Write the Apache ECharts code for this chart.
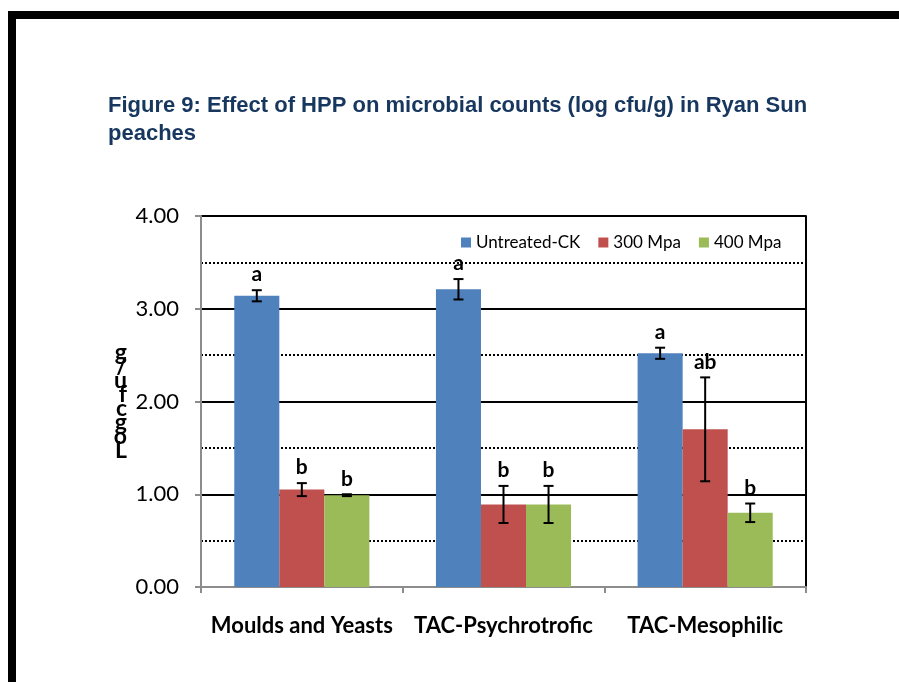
<!DOCTYPE html>
<html>
<head>
<meta charset="utf-8">
<script src="https://cdn.jsdelivr.net/npm/echarts@6/dist/echarts.min.js"></script>
<style>
  html, body { margin: 0; padding: 0; background: #fff; }
  #chart { width: 899px; height: 682px; }
</style>
</head>
<body>
<div id="chart"></div>
<script>
var categories = ['Moulds and Yeasts', 'TAC-Psychrotrofic', 'TAC-Mesophilic'];
var seriesNames = ['Untreated-CK', '300 Mpa', '400 Mpa'];
var untreated = [3.14, 3.21, 2.52];
var mpa300 = [1.05, 0.89, 1.70];
var mpa400 = [0.99, 0.89, 0.80];
var errUntreated = [0.06, 0.11, 0.06];
var err300 = [0.07, 0.20, 0.56];
var err400 = [0.01, 0.20, 0.10];
var letUntreated = ['a', 'a', 'a'];
var let300 = ['b', 'b', 'ab'];
var let400 = ['b', 'b', 'b'];

var colors = ['#4F81BD', '#C0504D', '#9BBB59'];
var values = [untreated, mpa300, mpa400];
var errors = [errUntreated, err300, err400];
var letters = [letUntreated, let300, let400];
var gapRatio = 0.33;
var font = 'Lato, "Open Sans", sans-serif';

var chart = echarts.init(document.getElementById('chart'));

function errSeries(k) {
  return {
    type: 'custom',
    name: seriesNames[k] + ' err',
    z: 5,
    data: categories.map(function (c, i) { return [i, values[k][i], errors[k][i]]; }),
    renderItem: function (params, api) {
      var idx = api.value(0);
      var v = api.value(1), e = api.value(2);
      var catW = api.size([1, 0])[0];
      var barW = catW * (1 - gapRatio) / 3;
      var c = api.coord([idx, v]);
      var x = c[0] + (k - 1) * barW;
      var yTop = api.coord([idx, v + e])[1];
      var yBot = api.coord([idx, v - e])[1];
      var st = { stroke: '#000', lineWidth: 2 };
      return {
        type: 'group',
        children: [
          { type: 'line', shape: { x1: x, y1: yTop, x2: x, y2: yBot }, style: st },
          { type: 'line', shape: { x1: x - 5, y1: yTop, x2: x + 5, y2: yTop }, style: st },
          { type: 'line', shape: { x1: x - 5, y1: yBot, x2: x + 5, y2: yBot }, style: st },
          { type: 'text', x: x, y: yTop - 5,
            style: { text: letters[k][idx], fill: '#000', font: 'bold 21px ' + font,
                     align: 'center', verticalAlign: 'bottom' } }
        ]
      };
    }
  };
}

var option = {
  backgroundColor: '#fff',
  animation: false,
  title: {
    text: 'Figure 9: Effect of HPP on microbial counts (log cfu/g) in Ryan Sun\npeaches',
    left: 103, top: 87,
    textStyle: {
      color: '#17375E', fontSize: 22, fontWeight: 'bold', lineHeight: 28,
      fontFamily: '"Liberation Sans Narrow", "Liberation Sans", Arial, sans-serif'
    }
  },
  legend: {
    data: seriesNames,
    left: 456, top: 229,
    itemWidth: 10, itemHeight: 10, itemGap: 18,
    icon: 'rect',
    textStyle: { fontSize: 17, color: '#000', fontFamily: font }
  },
  graphic: [
    { type: 'rect', shape: { x: 8, y: 11, width: 891, height: 8 }, style: { fill: '#000' } },
    { type: 'rect', shape: { x: 8, y: 11, width: 8, height: 671 }, style: { fill: '#000' } }
  ],
  grid: { left: 201, right: 93, top: 216, bottom: 95 },
  xAxis: {
    type: 'category',
    data: categories,
    axisLine: { lineStyle: { color: '#8c8c8c', width: 2 } },
    axisTick: { show: true, interval: 0, length: 6, lineStyle: { color: '#8c8c8c', width: 2 } },
    axisLabel: { interval: 0, margin: 28, color: '#000', fontSize: 22, fontWeight: 'bold',
                 fontFamily: font }
  },
  yAxis: [{
    type: 'value',
    min: 0, max: 4, interval: 1,
    name: 'g/ufcgoL'.split('').join('\n'),
    nameLocation: 'middle', nameRotate: 0, nameGap: 74,
    nameTextStyle: { fontSize: 23, fontWeight: 'bold', lineHeight: 14, color: '#000',
                     fontFamily: font, padding: [0, 0, 30, 0] },
    axisLine: { show: true, lineStyle: { color: '#8c8c8c', width: 2 } },
    axisTick: { show: true, inside: false, length: 6, lineStyle: { color: '#8c8c8c', width: 2 } },
    axisLabel: { margin: 22, color: '#000', fontSize: 22, fontFamily: font,
                 formatter: function (v) { return v.toFixed(2); } },
    splitLine: { show: true, lineStyle: { color: '#000', width: 2 } },
    minorTick: { show: false, splitNumber: 2 },
    minorSplitLine: { show: true, lineStyle: { color: '#000', type: 'dotted', width: 2 } }
  }, {
    type: 'value',
    min: 0, max: 4, interval: 1,
    position: 'right',
    axisLine: { show: true, lineStyle: { color: '#000', width: 2 } },
    axisTick: { show: false }, axisLabel: { show: false }, splitLine: { show: false }
  }],
  series: seriesNames.map(function (n, k) {
    return {
      name: n, type: 'bar', data: values[k],
      barGap: 0, barCategoryGap: (gapRatio * 100) + '%',
      itemStyle: { color: colors[k] }, z: 3
    };
  }).concat([errSeries(0), errSeries(1), errSeries(2)])
};

chart.setOption(option);
</script>
</body>
</html>
